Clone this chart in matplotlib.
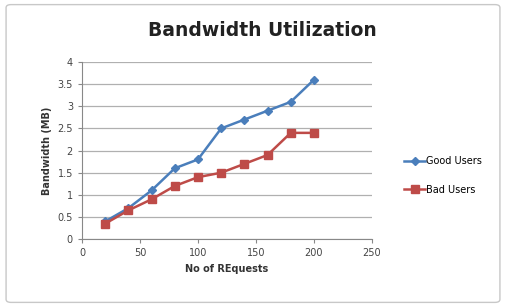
import numpy as np
import matplotlib.pyplot as plt
from matplotlib.patches import FancyBboxPatch

# values
requests = [20, 40, 60, 80, 100, 120, 140, 160, 180, 200]
good_users = [0.4, 0.7, 1.1, 1.6, 1.8, 2.5, 2.7, 2.9, 3.1, 3.6]
bad_users = [0.35, 0.65, 0.9, 1.2, 1.4, 1.5, 1.7, 1.9, 2.4, 2.4]

x_ticks = [0, 50, 100, 150, 200, 250]
y_ticks = [0, 0.5, 1, 1.5, 2, 2.5, 3, 3.5, 4]
y_labels = ['0', '0.5', '1', '1.5', '2', '2.5', '3', '3.5', '4']

fig = plt.figure(figsize=(5.06, 3.07), dpi=100)
fig.patch.set_facecolor('white')

# rounded chart border
border = FancyBboxPatch((0.012, 0.015), 0.976, 0.97, boxstyle='round,pad=0,rounding_size=0.01',
                        transform=fig.transFigure, facecolor='none', edgecolor='#c8c8c8', linewidth=1)
fig.patches.append(border)

ax = fig.add_axes([0.162, 0.221, 0.573, 0.577])

ax.plot(requests, good_users, color='#4a7ebb', linewidth=1.8, marker='D', markersize=4,
        label='Good Users')
ax.plot(requests, bad_users, color='#be4b48', linewidth=1.8, marker='s', markersize=6,
        label='Bad Users')

ax.set_xlim(0, 250)
ax.set_ylim(0, 4)
ax.set_xticks(x_ticks)
ax.set_yticks(y_ticks)
ax.set_yticklabels(y_labels)
ax.tick_params(labelsize=7, colors='#444444', length=3, color='#888888')

ax.grid(axis='y', color='#b0b0b0', linewidth=0.9)
ax.set_axisbelow(True)
for side in ['top', 'right']:
    ax.spines[side].set_visible(False)
for side in ['left', 'bottom']:
    ax.spines[side].set_color('#888888')

ax.set_xlabel('No of REquests', fontsize=7, fontweight='bold', color='#333333')
ax.set_ylabel('Bandwidth (MB)', fontsize=7, fontweight='bold', color='#333333')

fig.text(0.518, 0.9, 'Bandwidth Utilization', ha='center', va='center', fontsize=13.5,
         fontweight='bold', color='#222222')

ax.legend(loc='center left', bbox_to_anchor=(1.08, 0.36), frameon=False, fontsize=7,
          handlelength=2.2, handletextpad=0.1, labelspacing=1.9)

fig.savefig('out.png', dpi=100)
